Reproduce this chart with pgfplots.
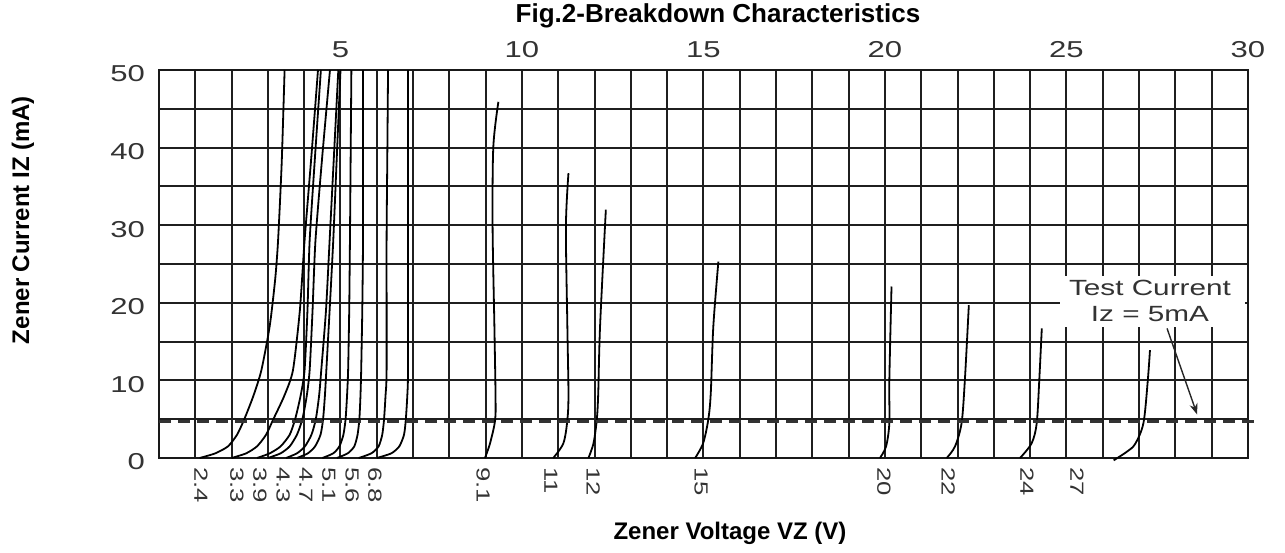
\documentclass[border=0pt]{standalone}
\usepackage{pgfplots}
\pgfplotsset{compat=1.18}
\usepackage{fontspec}
\setmainfont{Liberation Sans}
\newfontfamily\widefont[FakeStretch=1.35]{Liberation Sans}
\usetikzlibrary{arrows.meta}

\begin{document}
\begin{tikzpicture}
\begin{axis}[
    at={(159pt,94pt)}, anchor=south west,
    scale only axis, width=1089pt, height=388pt,
    xmin=0, xmax=30, ymin=0, ymax=50,
    clip=false,
    /pgf/number format/assume math mode=true,
    axis line style={line width=2.2pt, black!90},
    major tick length=0pt, minor tick length=0pt,
    xtick={1.157,2.149,2.78,3.42,4.05,4.68,5.32,5.95,8.93,10.80,11.96,14.93,19.97,21.74,23.91,25.29},
    xticklabels={2.4,3.3,3.9,4.3,4.7,5.1,5.6,6.8,9.1,11,12,15,20,22,24,27},
    minor xtick={0,1,...,30},
    xmajorgrids=false, xminorgrids=true,
    ytick={0,10,...,50},
    minor ytick={5,15,...,45},
    ymajorgrids=true, yminorgrids=true,
    major grid style={line width=2pt, black!88},
    minor grid style={line width=2pt, black!88},
    xticklabel shift=9pt,
    xticklabel style={font=\widefont\fontsize{19}{19}\selectfont, black!80, rotate=-90, anchor=west, inner sep=0pt},
    yticklabel style={font=\widefont\fontsize{23}{23}\selectfont, black!80, inner sep=0pt, xshift=-14pt, yshift=-4pt},
]
% low-voltage curves
\addplot[black, line width=1.8pt, smooth, tension=0.4] coordinates {(1.12,0) (1.55,0.6) (1.9,1.5) (2.15,3) (2.35,5) (2.6,8) (2.82,11.3) (3.05,17) (3.2,23) (3.28,28) (3.38,38) (3.46,50)};
\addplot[black, line width=1.8pt, smooth, tension=0.4] coordinates {(2.0,0) (2.4,0.6) (2.7,1.5) (2.95,3) (3.15,5) (3.45,8) (3.69,11.3) (3.88,19) (4.01,28) (4.2,39) (4.38,50)};
\addplot[black, line width=1.8pt, smooth, tension=0.4] coordinates {(2.7,0) (3.05,0.6) (3.35,1.5) (3.6,3) (3.75,5) (3.9,8) (4.01,11.3) (4.09,19) (4.15,28) (4.3,39) (4.46,50)};
\addplot[black, line width=1.8pt, smooth, tension=0.4] coordinates {(3.0,0) (3.35,0.6) (3.6,1.5) (3.8,3) (3.95,5) (4.07,8) (4.15,11.3) (4.23,19) (4.31,28) (4.5,39) (4.71,50)};
\addplot[black, line width=1.8pt, smooth, tension=0.4] coordinates {(3.5,0) (3.8,0.6) (4.02,1.5) (4.2,3) (4.32,5) (4.41,8) (4.47,11.3) (4.6,19) (4.70,28) (4.82,39) (4.94,50)};
\addplot[black, line width=1.8pt, smooth, tension=0.4] coordinates {(3.8,0) (4.1,0.6) (4.3,1.5) (4.45,3) (4.52,5) (4.57,8) (4.61,11.3) (4.7,19) (4.80,28) (4.9,39) (5.0,50)};
\addplot[black, line width=1.8pt, smooth, tension=0.4] coordinates {(4.5,0) (4.8,0.6) (4.97,1.5) (5.08,3) (5.14,5) (5.18,8) (5.21,11.3) (5.24,19) (5.26,28) (5.28,39) (5.3,50)};
\addplot[black, line width=1.8pt, smooth, tension=0.4] coordinates {(4.9,0) (5.2,0.6) (5.38,1.5) (5.47,3) (5.52,5) (5.55,8) (5.57,11.3) (5.6,19) (5.62,28) (5.62,39) (5.62,50)};
\addplot[black, line width=1.8pt, smooth, tension=0.4] coordinates {(5.5,0) (5.85,0.6) (6.05,1.5) (6.15,3) (6.2,5) (6.24,8) (6.27,11.3) (6.27,28) (6.29,39) (6.31,50)};
\addplot[black, line width=1.8pt, smooth, tension=0.4] coordinates {(6.0,0) (6.4,0.6) (6.62,1.5) (6.75,3) (6.8,5) (6.84,8) (6.86,11.3) (6.86,28) (6.86,50)};
% higher-voltage curves
\addplot[black, line width=1.8pt, smooth, tension=0.5] coordinates {(8.98,0) (9.12,1.9) (9.26,4.9) (9.27,8.3) (9.24,16.9) (9.19,29.8) (9.21,40.1) (9.35,45.9)};
\addplot[black, line width=1.8pt, smooth, tension=0.5] coordinates {(10.86,0) (11.14,1.9) (11.25,4.9) (11.28,8.3) (11.25,16.9) (11.21,29.8) (11.28,36.7)};
\addplot[black, line width=1.8pt, smooth, tension=0.5] coordinates {(11.83,0) (11.97,1.9) (12.06,4.9) (12.10,8.3) (12.15,16.9) (12.31,32.0)};
\addplot[black, line width=1.8pt, smooth, tension=0.5] coordinates {(14.77,0) (14.99,1.9) (15.13,4.9) (15.2,8.3) (15.27,16.9) (15.41,25.3)};
\addplot[black, line width=1.8pt, smooth, tension=0.5] coordinates {(19.86,0) (20.03,1.5) (20.12,4.5) (20.12,10) (20.18,22.1)};
\addplot[black, line width=1.8pt, smooth, tension=0.5] coordinates {(21.70,0) (21.93,1.5) (22.11,4.5) (22.2,10) (22.31,19.7)};
\addplot[black, line width=1.8pt, smooth, tension=0.5] coordinates {(23.72,0) (24.04,1.9) (24.18,4.5) (24.25,10) (24.32,16.7)};
\addplot[black, line width=1.8pt, smooth, tension=0.5] coordinates {(26.3,-0.3) (26.66,0.8) (26.89,1.8) (27.12,4.5) (27.24,10) (27.30,13.9)};
% test current line
\addplot[black!80, line width=2.2pt, dash pattern=on 12pt off 7pt] coordinates {(0,4.7) (30.2,4.7)};
% annotation
\fill[white] (axis cs:24.82,16.9) rectangle (axis cs:29.92,23.5);
\node[align=center, font=\widefont\fontsize{22}{26}\selectfont, text=black!80] at (axis cs:27.3,20.2) {Test Current\\Iz = 5mA};
\draw[-{Stealth[length=11pt,width=8pt]}, line width=1.4pt, black!85] (axis cs:27.77,16.7) -- (axis cs:28.6,5.6);
% top scale
\pgfplotsinvokeforeach{5,10,...,30}{
  \node[anchor=base, inner sep=0pt, font=\widefont\fontsize{23}{23}\selectfont, text=black!80] at ([yshift=13pt]axis cs:#1,50) {#1};
}
\end{axis}
\node[font=\bfseries\fontsize{26}{26}\selectfont] at (718pt,536pt) {Fig.2-Breakdown Characteristics};
\node[font=\bfseries\fontsize{24}{24}\selectfont] at (730pt,19pt) {Zener Voltage VZ (V)};
\node[font=\bfseries\fontsize{24}{24}\selectfont, rotate=90] at (23pt,332pt) {Zener Current IZ (mA)};
\pgfresetboundingbox
\path[use as bounding box] (0,0) rectangle (1285pt,552pt);
\end{tikzpicture}
\end{document}
